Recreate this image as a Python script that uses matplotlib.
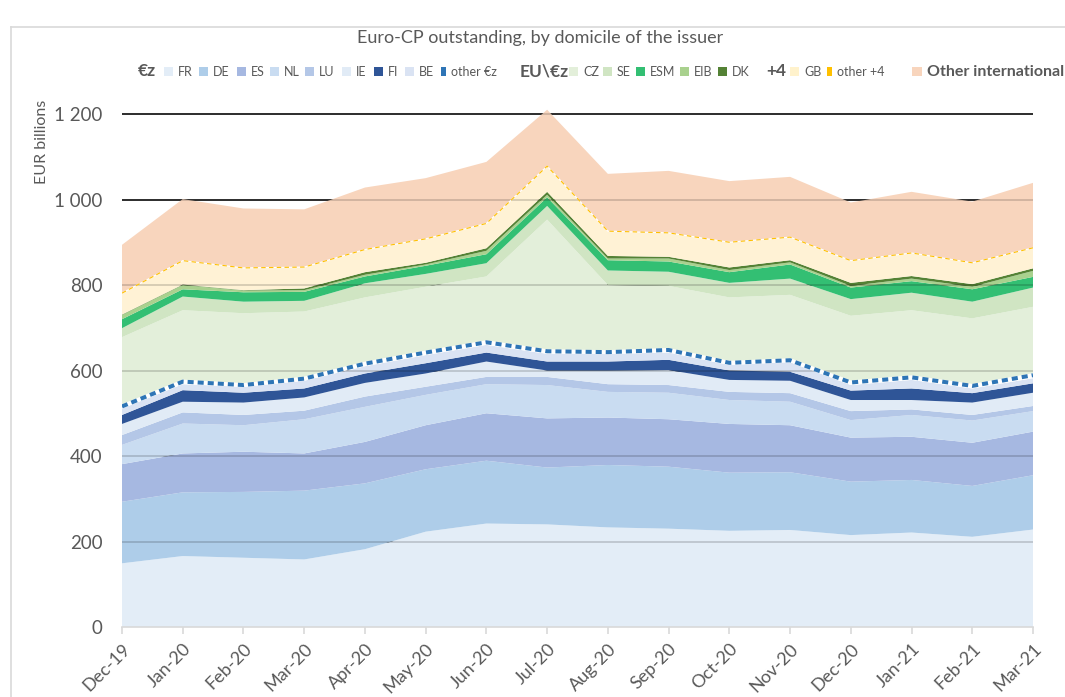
import numpy as np
import matplotlib.pyplot as plt
from matplotlib.patches import Rectangle
from matplotlib.lines import Line2D

plt.rcParams['font.family'] = ['Lato', 'DejaVu Sans']

months = ["Dec-19", "Jan-20", "Feb-20", "Mar-20", "Apr-20", "May-20", "Jun-20", "Jul-20",
          "Aug-20", "Sep-20", "Oct-20", "Nov-20", "Dec-20", "Jan-21", "Feb-21", "Mar-21"]

# EUR billions
fr = [149, 166, 162, 158, 182, 223, 242, 240, 233, 230, 225, 227, 215, 221, 211, 228]
de = [144, 149, 154, 161, 154, 146, 147, 133, 146, 145, 136, 135, 125, 123, 119, 127]
es = [88, 91, 94, 87, 97, 103, 111, 115, 111, 111, 114, 110, 103, 101, 101, 102]
nl = [45, 70, 62, 80, 82, 71, 68, 78, 60, 62, 56, 55, 41, 51, 52, 48]
lu = [23, 26, 24, 20, 24, 19, 17, 19, 18, 18, 19, 20, 21, 13, 13, 12]
ie = [26, 25, 29, 31, 32, 31, 36, 15, 32, 35, 28, 29, 26, 22, 29, 31]
fi = [21, 27, 23, 21, 22, 24, 21, 21, 21, 24, 22, 21, 22, 27, 22, 22]
be = [15, 14, 14, 18, 17, 19, 18, 18, 18, 17, 13, 23, 13, 20, 11, 12]
other_ez = [5, 6, 4, 5, 6, 6, 6, 6, 4, 6, 5, 4, 6, 6, 6, 7]
cz = [162, 167, 168, 157, 155, 154, 154, 308, 157, 150, 153, 153, 156, 157, 158, 160]
se = [21, 32, 27, 25, 33, 30, 31, 32, 34, 33, 34, 38, 39, 41, 39, 45]
esm = [21, 17, 22, 21, 16, 19, 21, 20, 24, 24, 25, 33, 27, 27, 29, 25]
eib = [10, 10, 4, 4, 4, 3, 8, 6, 4, 7, 5, 5, 4, 6, 6, 14]
dk = [1, 1, 1, 4, 6, 4, 6, 7, 6, 4, 6, 5, 7, 6, 6, 6]
gb = [49, 55, 51, 49, 52, 55, 57, 59, 57, 55, 58, 53, 51, 53, 49, 47]
other_p4 = [1, 1, 1, 1, 1, 1, 1, 1, 1, 1, 1, 1, 1, 1, 1, 1]
other_int = [113, 144, 139, 135, 145, 142, 144, 132, 134, 145, 143, 141, 136, 143, 143, 152]

series = [fr, de, es, nl, lu, ie, fi, be, other_ez, cz, se, esm, eib, dk, gb, other_p4, other_int]
colors = ["#e3edf7", "#aecde9", "#a6b8e1", "#c9dcf1", "#b4c7e7", "#e1ebf6", "#2f5597", "#dae3f3",
          "#ffffff", "#e3efda", "#d0e5c3", "#33bf73", "#a9d18e", "#548235", "#fff2d5", "#fff2d5",
          "#f8d5bd"]

W, H = 1065, 697
fig = plt.figure(figsize=(W / 100, H / 100), dpi=100)
ax = fig.add_axes([122 / W, 70 / H, (1033 - 122) / W, (627 - 102.9) / H])

x = np.arange(len(months))
yticks = np.arange(0, 1201, 200)

# black grid behind the areas
for t in yticks[1:]:
    ax.axhline(t, color="black", lw=1.1, zorder=0)

ax.stackplot(x, *series, colors=colors, linewidth=0, zorder=1)

cum = np.cumsum(np.array(series), axis=0)
# other €z: blue dashed border, other +4: thin yellow dashed
ax.plot(x, cum[8], color="white", lw=2.9, zorder=4)
ax.plot(x, cum[8], color="#2e75b6", lw=2.9, dashes=(1.5, 1.0), zorder=5)
ax.plot(x, cum[15], color="white", lw=0.8, zorder=4)
ax.plot(x, cum[15], color="#ffc000", lw=0.8, dashes=(4, 3), zorder=5)

# grid seen through the areas
for t in yticks[1:]:
    ax.axhline(t, color="black", lw=1.1, alpha=0.2, zorder=3)

ax.set_xlim(0, len(months) - 1)
ax.set_ylim(0, 1226)
ax.set_yticks(yticks)
ax.set_yticklabels([f"{v:,}".replace(",", " ") for v in yticks])
ax.set_xticks(x)
ax.set_xticklabels(months, rotation=45, ha="right", rotation_mode="anchor")

for s in ["top", "right", "left"]:
    ax.spines[s].set_visible(False)
ax.spines["bottom"].set_color("#d9d9d9")
ax.spines["bottom"].set_linewidth(1.2)
ax.spines["bottom"].set_zorder(6)
ax.tick_params(axis="y", length=0, pad=14, labelsize=13.5, labelcolor="#595959")
ax.tick_params(axis="x", direction="out", length=5, color="#d9d9d9", width=1.2,
               pad=5, labelsize=13, labelcolor="#595959")

# chart frame
fig.add_artist(Line2D([11 / W, 11 / W], [0, 1 - 27 / H], color="#d9d9d9", lw=1.2))
fig.add_artist(Line2D([11 / W, 1], [1 - 27 / H, 1 - 27 / H], color="#d9d9d9", lw=1.2))

fig.text(540 / W, 1 - 38 / H, "Euro-CP outstanding, by domicile of the issuer",
         ha="center", va="center", fontsize=13, color="#595959")
fig.text(42 / W, 1 - 142 / H, "EUR billions", rotation=90, ha="center", va="center",
         fontsize=11.5, color="#595959")

# legend drawn by hand, in pixel positions of the reference
ly = 71.5


def head(px, text):
    fig.text(px / W, 1 - ly / H, text, ha="left", va="center", fontsize=12.5,
             fontweight="bold", color="#595959")


def item(px, text, color, w=9, bold=False, size=9):
    fig.add_artist(Rectangle((px / W, 1 - (ly + 4.5) / H), w / W, 9 / H,
                             facecolor=color, edgecolor="none", transform=fig.transFigure))
    fig.text((px + w + 5) / W, 1 - ly / H, text, ha="left", va="center", fontsize=size,
             color="#595959", fontweight="bold" if bold else "normal")


head(138, "€z")
item(164, "FR", colors[0])
item(199, "DE", colors[1])
item(237, "ES", colors[2])
item(270, "NL", colors[3])
item(305, "LU", colors[4])
item(342, "IE", colors[5])
item(374, "FI", colors[6])
item(405, "BE", colors[7])
item(441, "other €z", "#2e75b6", w=5, size=9)
head(520, "EU\\€z")
item(569, "CZ", colors[9])
item(603, "SE", colors[10])
item(636, "ESM", colors[11])
item(680, "EIB", colors[12])
item(718, "DK", colors[13])
head(766, "+4")
item(790, "GB", "#fff2cc")
item(827, "other +4", "#ffc000", w=5)
item(912, "Other international", colors[16], w=10, bold=True, size=11.5)

fig.savefig("out.png", dpi=100)
